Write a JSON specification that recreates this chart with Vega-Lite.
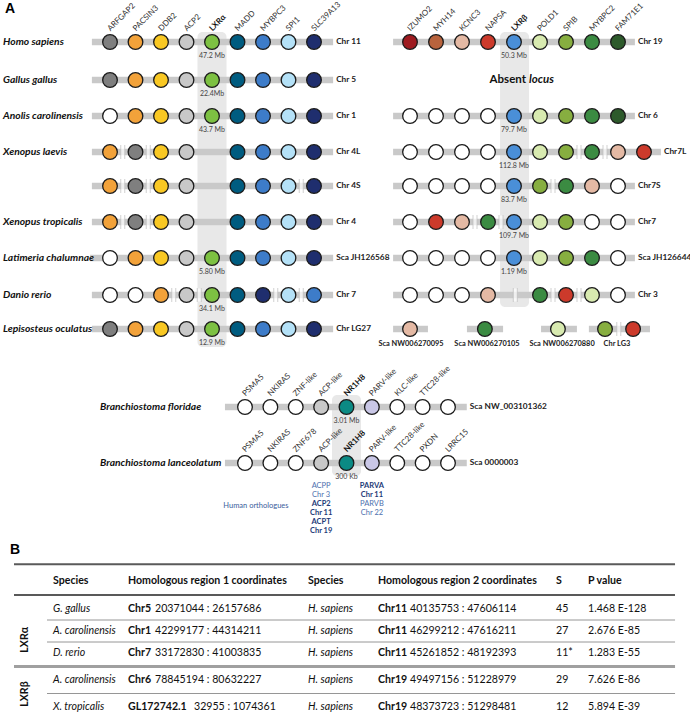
{
"$schema": "https://vega.github.io/schema/vega-lite/v6.json",
"width": 690, "height": 724, "padding": 0, "autosize": {"type": "none"},
"background": "white",
"config": {"view": {"stroke": null}, "axis": {"disable": true}, "legend": {"disable": true}, "font": "Lato"},
"datasets": {
"circL": [
{"r":1,"c":1,"g":"ARFGAP2"},{"r":1,"c":2,"g":"PACSIN3"},{"r":1,"c":3,"g":"DDB2"},{"r":1,"c":4,"g":"ACP2"},{"r":1,"c":5,"g":"LXRa"},{"r":1,"c":6,"g":"MADD"},{"r":1,"c":7,"g":"MYBPC3"},{"r":1,"c":8,"g":"SPI1"},{"r":1,"c":9,"g":"SLC39A13"},
{"r":2,"c":1,"g":"ARFGAP2"},{"r":2,"c":2,"g":"PACSIN3"},{"r":2,"c":3,"g":"DDB2"},{"r":2,"c":4,"g":"ACP2"},{"r":2,"c":5,"g":"LXRa"},{"r":2,"c":6,"g":"MADD"},{"r":2,"c":7,"g":"MYBPC3"},{"r":2,"c":8,"g":"SPI1"},{"r":2,"c":9,"g":"SLC39A13"},
{"r":3,"c":1,"g":"other"},{"r":3,"c":2,"g":"PACSIN3"},{"r":3,"c":3,"g":"DDB2"},{"r":3,"c":4,"g":"ACP2"},{"r":3,"c":5,"g":"LXRa"},{"r":3,"c":6,"g":"MADD"},{"r":3,"c":7,"g":"MYBPC3"},{"r":3,"c":8,"g":"SPI1"},{"r":3,"c":9,"g":"SLC39A13"},
{"r":4,"c":1,"g":"PACSIN3"},{"r":4,"c":2,"g":"ARFGAP2"},{"r":4,"c":3,"g":"DDB2"},{"r":4,"c":4,"g":"ACP2"},{"r":4,"c":6,"g":"MADD"},{"r":4,"c":7,"g":"MYBPC3"},{"r":4,"c":8,"g":"SPI1"},{"r":4,"c":9,"g":"SLC39A13"},
{"r":5,"c":1,"g":"PACSIN3"},{"r":5,"c":2,"g":"ARFGAP2"},{"r":5,"c":3,"g":"DDB2"},{"r":5,"c":4,"g":"ACP2"},{"r":5,"c":6,"g":"MADD"},{"r":5,"c":7,"g":"MYBPC3"},{"r":5,"c":8,"g":"SPI1"},{"r":5,"c":9,"g":"SLC39A13"},
{"r":6,"c":1,"g":"PACSIN3"},{"r":6,"c":2,"g":"ARFGAP2"},{"r":6,"c":3,"g":"DDB2"},{"r":6,"c":4,"g":"ACP2"},{"r":6,"c":6,"g":"MADD"},{"r":6,"c":7,"g":"MYBPC3"},{"r":6,"c":8,"g":"SPI1"},{"r":6,"c":9,"g":"SLC39A13"},
{"r":7,"c":1,"g":"other"},{"r":7,"c":2,"g":"PACSIN3"},{"r":7,"c":3,"g":"DDB2"},{"r":7,"c":4,"g":"ACP2"},{"r":7,"c":5,"g":"LXRa"},{"r":7,"c":6,"g":"MADD"},{"r":7,"c":7,"g":"MYBPC3"},{"r":7,"c":8,"g":"SPI1"},{"r":7,"c":9,"g":"SLC39A13"},
{"r":8,"c":1,"g":"other"},{"r":8,"c":2,"g":"other"},{"r":8,"c":3,"g":"PACSIN3"},{"r":8,"c":4,"g":"ACP2"},{"r":8,"c":5,"g":"LXRa"},{"r":8,"c":6,"g":"MADD"},{"r":8,"c":7,"g":"SLC39A13"},{"r":8,"c":8,"g":"SPI1"},{"r":8,"c":9,"g":"MYBPC3"},
{"r":9,"c":1,"g":"ARFGAP2"},{"r":9,"c":2,"g":"PACSIN3"},{"r":9,"c":3,"g":"DDB2"},{"r":9,"c":4,"g":"ACP2"},{"r":9,"c":5,"g":"LXRa"},{"r":9,"c":6,"g":"MADD"},{"r":9,"c":7,"g":"MYBPC3"},{"r":9,"c":8,"g":"SPI1"},{"r":9,"c":9,"g":"SLC39A13"}
],
"circR": [
{"r":1,"c":1,"g":"IZUMO2"},{"r":1,"c":2,"g":"MYH14"},{"r":1,"c":3,"g":"KCNC3"},{"r":1,"c":4,"g":"NAPSA"},{"r":1,"c":5,"g":"LXRb"},{"r":1,"c":6,"g":"POLD1"},{"r":1,"c":7,"g":"SPIB"},{"r":1,"c":8,"g":"MYBPC2"},{"r":1,"c":9,"g":"FAM71E1"},
{"r":3,"c":1,"g":"other"},{"r":3,"c":2,"g":"other"},{"r":3,"c":3,"g":"other"},{"r":3,"c":4,"g":"other"},{"r":3,"c":5,"g":"LXRb"},{"r":3,"c":6,"g":"POLD1"},{"r":3,"c":7,"g":"SPIB"},{"r":3,"c":8,"g":"MYBPC2"},{"r":3,"c":9,"g":"FAM71E1"},
{"r":4,"c":1,"g":"other"},{"r":4,"c":2,"g":"other"},{"r":4,"c":3,"g":"other"},{"r":4,"c":4,"g":"other"},{"r":4,"c":5,"g":"LXRb"},{"r":4,"c":6,"g":"POLD1"},{"r":4,"c":7,"g":"SPIB"},{"r":4,"c":8,"g":"MYBPC2"},{"r":4,"c":9,"g":"KCNC3"},{"r":4,"c":10,"g":"NAPSA"},
{"r":5,"c":1,"g":"other"},{"r":5,"c":2,"g":"other"},{"r":5,"c":3,"g":"other"},{"r":5,"c":4,"g":"other"},{"r":5,"c":5,"g":"LXRb"},{"r":5,"c":6,"g":"SPIB"},{"r":5,"c":7,"g":"MYBPC2"},{"r":5,"c":8,"g":"KCNC3"},{"r":5,"c":9,"g":"other"},
{"r":6,"c":1,"g":"other"},{"r":6,"c":2,"g":"NAPSA"},{"r":6,"c":3,"g":"KCNC3"},{"r":6,"c":4,"g":"MYBPC2"},{"r":6,"c":5,"g":"LXRb"},{"r":6,"c":6,"g":"POLD1"},{"r":6,"c":7,"g":"SPIB"},{"r":6,"c":8,"g":"other"},{"r":6,"c":9,"g":"other"},
{"r":7,"c":1,"g":"other"},{"r":7,"c":2,"g":"other"},{"r":7,"c":3,"g":"other"},{"r":7,"c":4,"g":"other"},{"r":7,"c":5,"g":"LXRb"},{"r":7,"c":6,"g":"POLD1"},{"r":7,"c":7,"g":"SPIB"},{"r":7,"c":8,"g":"MYBPC2"},{"r":7,"c":9,"g":"other"},
{"r":8,"c":1,"g":"other"},{"r":8,"c":2,"g":"other"},{"r":8,"c":3,"g":"other"},{"r":8,"c":4,"g":"KCNC3"},{"r":8,"c":6,"g":"MYBPC2"},{"r":8,"c":7,"g":"NAPSA"},{"r":8,"c":8,"g":"POLD1"},{"r":8,"c":9,"g":"other"},
{"r":9,"c":1,"g":"KCNC3"},{"r":9,"c":3.88,"g":"MYBPC2"},{"r":9,"c":6.69,"g":"POLD1"},{"r":9,"c":8.5,"g":"SPIB"},{"r":9,"c":9.58,"g":"NAPSA"}
],
"circB": [
{"r":1,"c":1,"g":"other"},{"r":1,"c":2,"g":"other"},{"r":1,"c":3,"g":"other"},{"r":1,"c":4,"g":"ACP-like"},{"r":1,"c":5,"g":"NR1H8"},{"r":1,"c":6,"g":"PARV-like"},{"r":1,"c":7,"g":"other"},{"r":1,"c":8,"g":"other"},{"r":1,"c":9,"g":"other"},
{"r":2,"c":1,"g":"other"},{"r":2,"c":2,"g":"other"},{"r":2,"c":3,"g":"other"},{"r":2,"c":4,"g":"ACP-like"},{"r":2,"c":5,"g":"NR1H8"},{"r":2,"c":6,"g":"PARV-like"},{"r":2,"c":7,"g":"other"},{"r":2,"c":8,"g":"other"},{"r":2,"c":9,"g":"other"}
],
"barsL": [
{"r":1,"from":0.29,"to":9.75,"chr":"Chr 11","sp":"Homo sapiens"},
{"r":2,"from":0.29,"to":9.75,"chr":"Chr 5","sp":"Gallus gallus"},
{"r":3,"from":0.29,"to":9.75,"chr":"Chr 1","sp":"Anolis carolinensis"},
{"r":4,"from":0.29,"to":9.75,"chr":"Chr 4L","sp":"Xenopus laevis"},
{"r":5,"from":0.29,"to":9.75,"chr":"Chr 4S","sp":""},
{"r":6,"from":0.29,"to":9.75,"chr":"Chr 4","sp":"Xenopus tropicalis"},
{"r":7,"from":0.22,"to":9.75,"chr":"Sca JH126568","sp":"Latimeria chalumnae"},
{"r":8,"from":0.29,"to":9.75,"chr":"Chr 7","sp":"Danio rerio"},
{"r":9,"from":0.29,"to":9.75,"chr":"Chr LG27","sp":"Lepisosteus oculatus"}
],
"barsR": [
{"r":1,"from":0.35,"to":9.65,"chr":"Chr 19"},
{"r":3,"from":0.35,"to":9.65,"chr":"Chr 6"},
{"r":4,"from":0.35,"to":10.65,"chr":"Chr7L"},
{"r":5,"from":0.35,"to":9.65,"chr":"Chr7S"},
{"r":6,"from":0.35,"to":9.65,"chr":"Chr7"},
{"r":7,"from":0.35,"to":9.65,"chr":"Sca JH126644"},
{"r":8,"from":0.35,"to":9.65,"chr":"Chr 3"},
{"r":9,"from":0.35,"to":1.69,"chr":""},
{"r":9,"from":3.19,"to":4.58,"chr":""},
{"r":9,"from":6.04,"to":7.42,"chr":""},
{"r":9,"from":7.88,"to":10.23,"chr":""}
],
"barsB": [
{"r":1,"from":0.21,"to":9.74,"chr":"Sca NW_003101362","sp":"Branchiostoma floridae"},
{"r":2,"from":0.21,"to":9.74,"chr":"Sca 0000003","sp":"Branchiostoma lanceolatum"}
],
"brkL": [
{"r":4,"c":1.5},{"r":4,"c":2.5},{"r":5,"c":1.5},{"r":5,"c":2.5},{"r":5,"c":8.5},{"r":6,"c":1.5},{"r":6,"c":2.5},
{"r":8,"c":3.5},{"r":8,"c":4.5},{"r":8,"c":7.5},{"r":8,"c":8.5}
],
"brkR": [
{"r":4,"c":7.5},{"r":4,"c":8.5},{"r":5,"c":6.5},{"r":6,"c":3.5},{"r":6,"c":4.5},{"r":8,"c":5.05},{"r":8,"c":6.5},{"r":8,"c":7.5},{"r":9,"c":9.03}
],
"labL": [
{"c":1,"t":"ARFGAP2","b":false},{"c":2,"t":"PACSIN3","b":false},{"c":3,"t":"DDB2","b":false},{"c":4,"t":"ACP2","b":false},{"c":5,"t":"LXRα","b":true},{"c":6,"t":"MADD","b":false},{"c":7,"t":"MYBPC3","b":false},{"c":8,"t":"SPI1","b":false},{"c":9,"t":"SLC39A13","b":false}
],
"labR": [
{"c":1,"t":"IZUMO2","b":false},{"c":2,"t":"MYH14","b":false},{"c":3,"t":"KCNC3","b":false},{"c":4,"t":"NAPSA","b":false},{"c":5,"t":"LXRβ","b":true},{"c":6,"t":"POLD1","b":false},{"c":7,"t":"SPIB","b":false},{"c":8,"t":"MYBPC2","b":false},{"c":9,"t":"FAM71E1","b":false}
],
"labB": [
{"r":1,"c":1,"t":"PSMA5","b":false},{"r":1,"c":2,"t":"NKIRAS","b":false},{"r":1,"c":3,"t":"ZNF-like","b":false},{"r":1,"c":4,"t":"ACP-like","b":false},{"r":1,"c":5,"t":"NR1H8","b":true},{"r":1,"c":6,"t":"PARV-like","b":false},{"r":1,"c":7,"t":"KLC-like","b":false},{"r":1,"c":8,"t":"TTC28-like","b":false},
{"r":2,"c":1,"t":"PSMA5","b":false},{"r":2,"c":2,"t":"NKIRAS","b":false},{"r":2,"c":3,"t":"ZNF678","b":false},{"r":2,"c":4,"t":"ACP-like","b":false},{"r":2,"c":5,"t":"NR1H8","b":true},{"r":2,"c":6,"t":"PARV-like","b":false},{"r":2,"c":7,"t":"TTC28-like","b":false},{"r":2,"c":8,"t":"PXDN","b":false},{"r":2,"c":9,"t":"LRRC15","b":false}
],
"mbL": [{"r":1,"c":5,"t":"47.2 Mb"},{"r":2,"c":5,"t":"22.4Mb"},{"r":3,"c":5,"t":"43.7 Mb"},{"r":7,"c":5,"t":"5.80 Mb"},{"r":8,"c":5,"t":"34.1 Mb"},{"r":9,"c":5,"t":"12.9 Mb"}],
"mbR": [{"r":1,"c":5,"t":"50.3 Mb"},{"r":3,"c":5,"t":"79.7 Mb"},{"r":4,"c":5,"t":"112.8 Mb"},{"r":5,"c":5,"t":"83.7 Mb"},{"r":6,"c":5,"t":"109.7 Mb"},{"r":7,"c":5,"t":"1.19 Mb"}],
"mbB": [{"r":1,"c":5,"t":"3.01 Mb"},{"r":2,"c":5,"t":"300 Kb"}],
"scaR": [{"c":1.04,"t":"Sca NW006270095"},{"c":3.96,"t":"Sca NW006270105"},{"c":6.85,"t":"Sca NW006270880"},{"c":8.96,"t":"Chr LG3"}],
"ortho": [
{"c":4,"l":1,"t":"ACPP","b":false},{"c":4,"l":2,"t":"Chr 3","b":false},{"c":4,"l":3,"t":"ACP2","b":true},{"c":4,"l":4,"t":"Chr 11","b":true},{"c":4,"l":5,"t":"ACPT","b":true},{"c":4,"l":6,"t":"Chr 19","b":true},
{"c":6,"l":1,"t":"PARVA","b":true},{"c":6,"l":2,"t":"Chr 11","b":true},{"c":6,"l":3,"t":"PARVB","b":false},{"c":6,"l":4,"t":"Chr 22","b":false}
],
"table": [
{"r":1,"sp1":"G. gallus","r1b":"Chr5","r1":"20371044 : 26157686","sp2":"H. sapiens","r2b":"Chr11","r2":"40135753 : 47606114","S":"45","P":"1.468 E-128"},
{"r":2,"sp1":"A. carolinensis","r1b":"Chr1","r1":"42299177 : 44314211","sp2":"H. sapiens","r2b":"Chr11","r2":"46299212 : 47616211","S":"27","P":"2.676 E-85"},
{"r":3,"sp1":"D. rerio","r1b":"Chr7","r1":"33172830 : 41003835","sp2":"H. sapiens","r2b":"Chr11","r2":"45261852 : 48192393","S":"11*","P":"1.283 E-55"},
{"r":4,"sp1":"A. carolinensis","r1b":"Chr6","r1":"78845194 : 80632227","sp2":"H. sapiens","r2b":"Chr19","r2":"49497156 : 51228979","S":"29","P":"7.626 E-86"},
{"r":5,"sp1":"X. tropicalis","r1b":"GL172742.1","r1":"32955 : 1074361","sp2":"H. sapiens","r2b":"Chr19","r2":"48373723 : 51298481","S":"12","P":"5.894 E-39"}
],
"thead": [{"c":1,"t":"Species"},{"c":2,"t":"Homologous region 1 coordinates"},{"c":3,"t":"Species"},{"c":4,"t":"Homologous region 2 coordinates"},{"c":5,"t":"S"},{"c":6,"t":"P value"}],
"tlines": [{"y":-0.6,"k":"top"},{"y":0.5,"k":"head"},{"y":1.5,"k":"thin"},{"y":2.5,"k":"thin"},{"y":3.5,"k":"dbl"},{"y":4.5,"k":"thin"}],
"groups": [{"t":"LXRα","y":2.4},{"t":"LXRβ","y":4.52}]
},
"resolve": {"scale": {"x": "independent", "y": "independent"}},
"layer": [
{"data":{"values":[{"c":5,"t":0.74,"b":9.53}]},"mark":{"type":"bar","width":29,"color":"#e8e8e8","cornerRadius":5},
 "encoding":{"x":{"field":"c","type":"quantitative","scale":{"domain":[1,9],"range":[110,314],"nice":false,"zero":false}},
 "y":{"field":"t","type":"quantitative","scale":{"domain":[1,2,3,4,5,6,7,8,9],"range":[42,80,116,152,186,222,258,295,329],"nice":false,"zero":false}},"y2":{"field":"b"}}},
{"data":{"values":[{"c":5,"t":0.74,"b":8.35}]},"mark":{"type":"bar","width":29,"color":"#e8e8e8","cornerRadius":5},
 "encoding":{"x":{"field":"c","type":"quantitative","scale":{"domain":[1,10],"range":[410,644],"nice":false,"zero":false}},
 "y":{"field":"t","type":"quantitative","scale":{"domain":[1,2,3,4,5,6,7,8,9],"range":[42,80,116,152,186,222,258,295,329],"nice":false,"zero":false}},"y2":{"field":"b"}}},
{"data":{"values":[{"c":5,"t":0.786,"b":2.23}]},"mark":{"type":"bar","width":29,"color":"#e8e8e8","cornerRadius":5},
 "encoding":{"x":{"field":"c","type":"quantitative","scale":{"domain":[1,9],"range":[245,448],"nice":false,"zero":false}},
 "y":{"field":"t","type":"quantitative","scale":{"domain":[1,2],"range":[407,463],"nice":false,"zero":false}},"y2":{"field":"b"}}},

{"data":{"name":"barsL"},"mark":{"type":"rule","color":"#c9c9c9","strokeWidth":6.5},
 "encoding":{"x":{"field":"from","type":"quantitative","scale":{"domain":[1,9],"range":[110,314],"nice":false,"zero":false}},"x2":{"field":"to"},
 "y":{"field":"r","type":"quantitative","scale":{"domain":[1,2,3,4,5,6,7,8,9],"range":[42,80,116,152,186,222,258,295,329],"nice":false,"zero":false}}}},
{"data":{"name":"barsR"},"mark":{"type":"rule","color":"#c9c9c9","strokeWidth":6.5},
 "encoding":{"x":{"field":"from","type":"quantitative","scale":{"domain":[1,10],"range":[410,644],"nice":false,"zero":false}},"x2":{"field":"to"},
 "y":{"field":"r","type":"quantitative","scale":{"domain":[1,2,3,4,5,6,7,8,9],"range":[42,80,116,152,186,222,258,295,329],"nice":false,"zero":false}}}},
{"data":{"name":"barsB"},"mark":{"type":"rule","color":"#c9c9c9","strokeWidth":6.5},
 "encoding":{"x":{"field":"from","type":"quantitative","scale":{"domain":[1,9],"range":[245,448],"nice":false,"zero":false}},"x2":{"field":"to"},
 "y":{"field":"r","type":"quantitative","scale":{"domain":[1,2],"range":[407,463],"nice":false,"zero":false}}}},

{"data":{"name":"brkL"},"mark":{"type":"tick","orient":"vertical","color":"white","thickness":4,"size":13},
 "encoding":{"x":{"field":"c","type":"quantitative","scale":{"domain":[1,9],"range":[110,314],"nice":false,"zero":false}},
 "y":{"field":"r","type":"quantitative","scale":{"domain":[1,2,3,4,5,6,7,8,9],"range":[42,80,116,152,186,222,258,295,329],"nice":false,"zero":false}}}},
{"data":{"name":"brkL"},"mark":{"type":"tick","orient":"vertical","color":"#bdbdbd","thickness":1,"size":14,"xOffset":-2},
 "encoding":{"x":{"field":"c","type":"quantitative","scale":{"domain":[1,9],"range":[110,314],"nice":false,"zero":false}},
 "y":{"field":"r","type":"quantitative","scale":{"domain":[1,2,3,4,5,6,7,8,9],"range":[42,80,116,152,186,222,258,295,329],"nice":false,"zero":false}}}},
{"data":{"name":"brkL"},"mark":{"type":"tick","orient":"vertical","color":"#bdbdbd","thickness":1,"size":14,"xOffset":2},
 "encoding":{"x":{"field":"c","type":"quantitative","scale":{"domain":[1,9],"range":[110,314],"nice":false,"zero":false}},
 "y":{"field":"r","type":"quantitative","scale":{"domain":[1,2,3,4,5,6,7,8,9],"range":[42,80,116,152,186,222,258,295,329],"nice":false,"zero":false}}}},
{"data":{"name":"brkR"},"mark":{"type":"tick","orient":"vertical","color":"white","thickness":4,"size":13},
 "encoding":{"x":{"field":"c","type":"quantitative","scale":{"domain":[1,10],"range":[410,644],"nice":false,"zero":false}},
 "y":{"field":"r","type":"quantitative","scale":{"domain":[1,2,3,4,5,6,7,8,9],"range":[42,80,116,152,186,222,258,295,329],"nice":false,"zero":false}}}},
{"data":{"name":"brkR"},"mark":{"type":"tick","orient":"vertical","color":"#bdbdbd","thickness":1,"size":14,"xOffset":-2},
 "encoding":{"x":{"field":"c","type":"quantitative","scale":{"domain":[1,10],"range":[410,644],"nice":false,"zero":false}},
 "y":{"field":"r","type":"quantitative","scale":{"domain":[1,2,3,4,5,6,7,8,9],"range":[42,80,116,152,186,222,258,295,329],"nice":false,"zero":false}}}},
{"data":{"name":"brkR"},"mark":{"type":"tick","orient":"vertical","color":"#bdbdbd","thickness":1,"size":14,"xOffset":2},
 "encoding":{"x":{"field":"c","type":"quantitative","scale":{"domain":[1,10],"range":[410,644],"nice":false,"zero":false}},
 "y":{"field":"r","type":"quantitative","scale":{"domain":[1,2,3,4,5,6,7,8,9],"range":[42,80,116,152,186,222,258,295,329],"nice":false,"zero":false}}}},

{"data":{"name":"circL"},"mark":{"type":"point","shape":"circle","filled":true,"size":215,"stroke":"#1b1b1b","strokeWidth":1.3,"opacity":1},
 "encoding":{"x":{"field":"c","type":"quantitative","scale":{"domain":[1,9],"range":[110,314],"nice":false,"zero":false}},
 "y":{"field":"r","type":"quantitative","scale":{"domain":[1,2,3,4,5,6,7,8,9],"range":[42,80,116,152,186,222,258,295,329],"nice":false,"zero":false}},
 "color":{"field":"g","type":"nominal","scale":{"domain":["ARFGAP2","PACSIN3","DDB2","ACP2","LXRa","MADD","MYBPC3","SPI1","SLC39A13","IZUMO2","MYH14","KCNC3","NAPSA","LXRb","POLD1","SPIB","MYBPC2","FAM71E1","ACP-like","NR1H8","PARV-like","other"],"range":["#7f7f7f","#f2a23a","#f9c823","#c8c8c8","#7dc142","#005c80","#3d7cc9","#b4e1f7","#1f2e6e","#9e1b20","#b8633d","#e4b9a4","#cc3a2b","#4a8fd8","#d8eab0","#87ae40","#3b8b42","#2d5a2b","#c8c8c8","#0b8a84","#c9c7e6","#ffffff"]}}}},
{"data":{"name":"circR"},"mark":{"type":"point","shape":"circle","filled":true,"size":215,"stroke":"#1b1b1b","strokeWidth":1.3,"opacity":1},
 "encoding":{"x":{"field":"c","type":"quantitative","scale":{"domain":[1,10],"range":[410,644],"nice":false,"zero":false}},
 "y":{"field":"r","type":"quantitative","scale":{"domain":[1,2,3,4,5,6,7,8,9],"range":[42,80,116,152,186,222,258,295,329],"nice":false,"zero":false}},
 "color":{"field":"g","type":"nominal","scale":{"domain":["ARFGAP2","PACSIN3","DDB2","ACP2","LXRa","MADD","MYBPC3","SPI1","SLC39A13","IZUMO2","MYH14","KCNC3","NAPSA","LXRb","POLD1","SPIB","MYBPC2","FAM71E1","ACP-like","NR1H8","PARV-like","other"],"range":["#7f7f7f","#f2a23a","#f9c823","#c8c8c8","#7dc142","#005c80","#3d7cc9","#b4e1f7","#1f2e6e","#9e1b20","#b8633d","#e4b9a4","#cc3a2b","#4a8fd8","#d8eab0","#87ae40","#3b8b42","#2d5a2b","#c8c8c8","#0b8a84","#c9c7e6","#ffffff"]}}}},
{"data":{"name":"circB"},"mark":{"type":"point","shape":"circle","filled":true,"size":215,"stroke":"#1b1b1b","strokeWidth":1.3,"opacity":1},
 "encoding":{"x":{"field":"c","type":"quantitative","scale":{"domain":[1,9],"range":[245,448],"nice":false,"zero":false}},
 "y":{"field":"r","type":"quantitative","scale":{"domain":[1,2],"range":[407,463],"nice":false,"zero":false}},
 "color":{"field":"g","type":"nominal","scale":{"domain":["ARFGAP2","PACSIN3","DDB2","ACP2","LXRa","MADD","MYBPC3","SPI1","SLC39A13","IZUMO2","MYH14","KCNC3","NAPSA","LXRb","POLD1","SPIB","MYBPC2","FAM71E1","ACP-like","NR1H8","PARV-like","other"],"range":["#7f7f7f","#f2a23a","#f9c823","#c8c8c8","#7dc142","#005c80","#3d7cc9","#b4e1f7","#1f2e6e","#9e1b20","#b8633d","#e4b9a4","#cc3a2b","#4a8fd8","#d8eab0","#87ae40","#3b8b42","#2d5a2b","#c8c8c8","#0b8a84","#c9c7e6","#ffffff"]}}}},

{"data":{"name":"labL"},"transform":[{"filter":"!datum.b"}],"mark":{"type":"text","angle":315,"align":"left","baseline":"middle","fontSize":8,"color":"#333","xOffset":-1,"yOffset":-12},
 "encoding":{"x":{"field":"c","type":"quantitative","scale":{"domain":[1,9],"range":[110,314],"nice":false,"zero":false}},
 "y":{"datum":1,"type":"quantitative","scale":{"domain":[1,2,3,4,5,6,7,8,9],"range":[42,80,116,152,186,222,258,295,329],"nice":false,"zero":false}},"text":{"field":"t"}}},
{"data":{"name":"labL"},"transform":[{"filter":"datum.b"}],"mark":{"type":"text","angle":315,"align":"left","baseline":"middle","fontSize":8,"fontWeight":"bold","color":"#111","xOffset":-1,"yOffset":-12},
 "encoding":{"x":{"field":"c","type":"quantitative","scale":{"domain":[1,9],"range":[110,314],"nice":false,"zero":false}},
 "y":{"datum":1,"type":"quantitative","scale":{"domain":[1,2,3,4,5,6,7,8,9],"range":[42,80,116,152,186,222,258,295,329],"nice":false,"zero":false}},"text":{"field":"t"}}},
{"data":{"name":"labR"},"transform":[{"filter":"!datum.b"}],"mark":{"type":"text","angle":315,"align":"left","baseline":"middle","fontSize":8,"color":"#333","xOffset":-1,"yOffset":-12},
 "encoding":{"x":{"field":"c","type":"quantitative","scale":{"domain":[1,10],"range":[410,644],"nice":false,"zero":false}},
 "y":{"datum":1,"type":"quantitative","scale":{"domain":[1,2,3,4,5,6,7,8,9],"range":[42,80,116,152,186,222,258,295,329],"nice":false,"zero":false}},"text":{"field":"t"}}},
{"data":{"name":"labR"},"transform":[{"filter":"datum.b"}],"mark":{"type":"text","angle":315,"align":"left","baseline":"middle","fontSize":8,"fontWeight":"bold","color":"#111","xOffset":-1,"yOffset":-12},
 "encoding":{"x":{"field":"c","type":"quantitative","scale":{"domain":[1,10],"range":[410,644],"nice":false,"zero":false}},
 "y":{"datum":1,"type":"quantitative","scale":{"domain":[1,2,3,4,5,6,7,8,9],"range":[42,80,116,152,186,222,258,295,329],"nice":false,"zero":false}},"text":{"field":"t"}}},
{"data":{"name":"labB"},"transform":[{"filter":"!datum.b"}],"mark":{"type":"text","angle":315,"align":"left","baseline":"middle","fontSize":8,"color":"#333","xOffset":-1,"yOffset":-12},
 "encoding":{"x":{"field":"c","type":"quantitative","scale":{"domain":[1,9],"range":[245,448],"nice":false,"zero":false}},
 "y":{"field":"r","type":"quantitative","scale":{"domain":[1,2],"range":[407,463],"nice":false,"zero":false}},"text":{"field":"t"}}},
{"data":{"name":"labB"},"transform":[{"filter":"datum.b"}],"mark":{"type":"text","angle":315,"align":"left","baseline":"middle","fontSize":8,"fontWeight":"bold","color":"#111","xOffset":-1,"yOffset":-12},
 "encoding":{"x":{"field":"c","type":"quantitative","scale":{"domain":[1,9],"range":[245,448],"nice":false,"zero":false}},
 "y":{"field":"r","type":"quantitative","scale":{"domain":[1,2],"range":[407,463],"nice":false,"zero":false}},"text":{"field":"t"}}},

{"data":{"name":"mbL"},"mark":{"type":"text","align":"center","baseline":"middle","fontSize":7,"color":"#444","yOffset":13.5},
 "encoding":{"x":{"field":"c","type":"quantitative","scale":{"domain":[1,9],"range":[110,314],"nice":false,"zero":false}},
 "y":{"field":"r","type":"quantitative","scale":{"domain":[1,2,3,4,5,6,7,8,9],"range":[42,80,116,152,186,222,258,295,329],"nice":false,"zero":false}},"text":{"field":"t"}}},
{"data":{"name":"mbR"},"mark":{"type":"text","align":"center","baseline":"middle","fontSize":7,"color":"#444","yOffset":13.5},
 "encoding":{"x":{"field":"c","type":"quantitative","scale":{"domain":[1,10],"range":[410,644],"nice":false,"zero":false}},
 "y":{"field":"r","type":"quantitative","scale":{"domain":[1,2,3,4,5,6,7,8,9],"range":[42,80,116,152,186,222,258,295,329],"nice":false,"zero":false}},"text":{"field":"t"}}},
{"data":{"name":"mbB"},"mark":{"type":"text","align":"center","baseline":"middle","fontSize":7,"color":"#444","yOffset":13.5},
 "encoding":{"x":{"field":"c","type":"quantitative","scale":{"domain":[1,9],"range":[245,448],"nice":false,"zero":false}},
 "y":{"field":"r","type":"quantitative","scale":{"domain":[1,2],"range":[407,463],"nice":false,"zero":false}},"text":{"field":"t"}}},

{"data":{"name":"barsL"},"mark":{"type":"text","align":"left","baseline":"middle","fontSize":8.3,"fontWeight":"bold","color":"#222","xOffset":3},
 "encoding":{"x":{"field":"to","type":"quantitative","scale":{"domain":[1,9],"range":[110,314],"nice":false,"zero":false}},
 "y":{"field":"r","type":"quantitative","scale":{"domain":[1,2,3,4,5,6,7,8,9],"range":[42,80,116,152,186,222,258,295,329],"nice":false,"zero":false}},"text":{"field":"chr"}}},
{"data":{"name":"barsR"},"mark":{"type":"text","align":"left","baseline":"middle","fontSize":8.3,"fontWeight":"bold","color":"#222","xOffset":3},
 "encoding":{"x":{"field":"to","type":"quantitative","scale":{"domain":[1,10],"range":[410,644],"nice":false,"zero":false}},
 "y":{"field":"r","type":"quantitative","scale":{"domain":[1,2,3,4,5,6,7,8,9],"range":[42,80,116,152,186,222,258,295,329],"nice":false,"zero":false}},"text":{"field":"chr"}}},
{"data":{"name":"barsB"},"mark":{"type":"text","align":"left","baseline":"middle","fontSize":8.3,"fontWeight":"bold","color":"#222","xOffset":3},
 "encoding":{"x":{"field":"to","type":"quantitative","scale":{"domain":[1,9],"range":[245,448],"nice":false,"zero":false}},
 "y":{"field":"r","type":"quantitative","scale":{"domain":[1,2],"range":[407,463],"nice":false,"zero":false}},"text":{"field":"chr"}}},

{"data":{"name":"barsL"},"mark":{"type":"text","align":"left","baseline":"middle","fontSize":10.3,"fontWeight":"bold","fontStyle":"italic","color":"#111"},
 "encoding":{"x":{"value":3},
 "y":{"field":"r","type":"quantitative","scale":{"domain":[1,2,3,4,5,6,7,8,9],"range":[42,80,116,152,186,222,258,295,329],"nice":false,"zero":false}},"text":{"field":"sp"}}},
{"data":{"name":"barsB"},"mark":{"type":"text","align":"left","baseline":"middle","fontSize":10.3,"fontWeight":"bold","fontStyle":"italic","color":"#111"},
 "encoding":{"x":{"value":100},
 "y":{"field":"r","type":"quantitative","scale":{"domain":[1,2],"range":[407,463],"nice":false,"zero":false}},"text":{"field":"sp"}}},

{"data":{"values":[{"c":5.5,"r":2,"t":"Absent"}]},"mark":{"type":"text","align":"right","baseline":"middle","fontSize":11.5,"fontWeight":"bold","color":"#111","xOffset":-1},
 "encoding":{"x":{"field":"c","type":"quantitative","scale":{"domain":[1,10],"range":[410,644],"nice":false,"zero":false}},
 "y":{"field":"r","type":"quantitative","scale":{"domain":[1,2,3,4,5,6,7,8,9],"range":[42,80,116,152,186,222,258,295,329],"nice":false,"zero":false}},"text":{"field":"t"}}},
{"data":{"values":[{"c":5.5,"r":2,"t":"locus"}]},"mark":{"type":"text","align":"left","baseline":"middle","fontSize":11.5,"fontWeight":"bold","fontStyle":"italic","color":"#111","xOffset":2},
 "encoding":{"x":{"field":"c","type":"quantitative","scale":{"domain":[1,10],"range":[410,644],"nice":false,"zero":false}},
 "y":{"field":"r","type":"quantitative","scale":{"domain":[1,2,3,4,5,6,7,8,9],"range":[42,80,116,152,186,222,258,295,329],"nice":false,"zero":false}},"text":{"field":"t"}}},
{"data":{"name":"scaR"},"mark":{"type":"text","align":"center","baseline":"middle","fontSize":7.4,"fontWeight":"bold","color":"#222","yOffset":15},
 "encoding":{"x":{"field":"c","type":"quantitative","scale":{"domain":[1,10],"range":[410,644],"nice":false,"zero":false}},
 "y":{"datum":9,"type":"quantitative","scale":{"domain":[1,2,3,4,5,6,7,8,9],"range":[42,80,116,152,186,222,258,295,329],"nice":false,"zero":false}},"text":{"field":"t"}}},

{"data":{"name":"ortho"},"transform":[{"filter":"!datum.b"}],"mark":{"type":"text","align":"center","baseline":"middle","fontSize":7.5,"color":"#4d6fae"},
 "encoding":{"x":{"field":"c","type":"quantitative","scale":{"domain":[1,9],"range":[245,448],"nice":false,"zero":false}},
 "y":{"field":"l","type":"quantitative","scale":{"domain":[1,6],"range":[486,531],"nice":false,"zero":false}},"text":{"field":"t"}}},
{"data":{"name":"ortho"},"transform":[{"filter":"datum.b"}],"mark":{"type":"text","align":"center","baseline":"middle","fontSize":7.5,"fontWeight":"bold","color":"#1d3a78"},
 "encoding":{"x":{"field":"c","type":"quantitative","scale":{"domain":[1,9],"range":[245,448],"nice":false,"zero":false}},
 "y":{"field":"l","type":"quantitative","scale":{"domain":[1,6],"range":[486,531],"nice":false,"zero":false}},"text":{"field":"t"}}},
{"data":{"values":[{"c":1.43,"l":3.22,"t":"Human orthologues"}]},"mark":{"type":"text","align":"center","baseline":"middle","fontSize":7.5,"color":"#3b5d9c"},
 "encoding":{"x":{"field":"c","type":"quantitative","scale":{"domain":[1,9],"range":[245,448],"nice":false,"zero":false}},
 "y":{"field":"l","type":"quantitative","scale":{"domain":[1,6],"range":[486,531],"nice":false,"zero":false}},"text":{"field":"t"}}},

{"data":{"name":"tlines"},"transform":[{"filter":"datum.k === 'top'"}],"mark":{"type":"rule","color":"#5a5a5a","strokeWidth":2},
 "encoding":{"x":{"datum":0.48,"type":"quantitative","scale":{"domain":[1,2,3,4,5,6],"range":[53,128,308,378,556,588],"nice":false,"zero":false}},"x2":{"datum":8.72},
 "y":{"field":"y","type":"quantitative","scale":{"domain":[0,1,3,5],"range":[581,609,653,707],"nice":false,"zero":false}}}},
{"data":{"name":"tlines"},"transform":[{"filter":"datum.k === 'head'"}],"mark":{"type":"rule","color":"#222","strokeWidth":1.5},
 "encoding":{"x":{"datum":0.48,"type":"quantitative","scale":{"domain":[1,2,3,4,5,6],"range":[53,128,308,378,556,588],"nice":false,"zero":false}},"x2":{"datum":8.72},
 "y":{"field":"y","type":"quantitative","scale":{"domain":[0,1,3,5],"range":[581,609,653,707],"nice":false,"zero":false}}}},
{"data":{"name":"tlines"},"transform":[{"filter":"datum.k === 'thin'"}],"mark":{"type":"rule","color":"#8a8a8a","strokeWidth":0.9},
 "encoding":{"x":{"datum":0.92,"type":"quantitative","scale":{"domain":[1,2,3,4,5,6],"range":[53,128,308,378,556,588],"nice":false,"zero":false}},"x2":{"datum":8.72},
 "y":{"field":"y","type":"quantitative","scale":{"domain":[0,1,3,5],"range":[581,609,653,707],"nice":false,"zero":false}}}},
{"data":{"name":"tlines"},"transform":[{"filter":"datum.k === 'dbl'"}],"mark":{"type":"rule","color":"#a0a0a0","strokeWidth":3},
 "encoding":{"x":{"datum":0.48,"type":"quantitative","scale":{"domain":[1,2,3,4,5,6],"range":[53,128,308,378,556,588],"nice":false,"zero":false}},"x2":{"datum":8.72},
 "y":{"field":"y","type":"quantitative","scale":{"domain":[0,1,3,5],"range":[581,609,653,707],"nice":false,"zero":false}}}},

{"data":{"name":"thead"},"mark":{"type":"text","align":"left","baseline":"middle","fontSize":10.6,"fontWeight":"bold","color":"#111"},
 "encoding":{"x":{"field":"c","type":"quantitative","scale":{"domain":[1,2,3,4,5,6],"range":[53,128,308,378,556,588],"nice":false,"zero":false}},
 "y":{"datum":0,"type":"quantitative","scale":{"domain":[0,1,3,5],"range":[581,609,653,707],"nice":false,"zero":false}},"text":{"field":"t"}}},
{"data":{"name":"groups"},"mark":{"type":"text","align":"center","baseline":"middle","fontSize":10.6,"fontWeight":"bold","color":"#111","angle":270},
 "encoding":{"x":{"datum":0.627,"type":"quantitative","scale":{"domain":[1,2,3,4,5,6],"range":[53,128,308,378,556,588],"nice":false,"zero":false}},
 "y":{"field":"y","type":"quantitative","scale":{"domain":[0,1,3,5],"range":[581,609,653,707],"nice":false,"zero":false}},"text":{"field":"t"}}},
{"data":{"name":"table"},"mark":{"type":"text","align":"left","baseline":"middle","fontSize":10.6,"fontStyle":"italic","color":"#111"},
 "encoding":{"x":{"datum":1,"type":"quantitative","scale":{"domain":[1,2,3,4,5,6],"range":[53,128,308,378,556,588],"nice":false,"zero":false}},
 "y":{"field":"r","type":"quantitative","scale":{"domain":[0,1,3,5],"range":[581,609,653,707],"nice":false,"zero":false}},"text":{"field":"sp1"}}},
{"data":{"name":"table"},"mark":{"type":"text","align":"left","baseline":"middle","fontSize":10.6,"fontWeight":"bold","color":"#111"},
 "encoding":{"x":{"datum":2,"type":"quantitative","scale":{"domain":[1,2,3,4,5,6],"range":[53,128,308,378,556,588],"nice":false,"zero":false}},
 "y":{"field":"r","type":"quantitative","scale":{"domain":[0,1,3,5],"range":[581,609,653,707],"nice":false,"zero":false}},"text":{"field":"r1b"}}},
{"data":{"name":"table"},"transform":[{"filter":"datum.r1b !== 'GL172742.1'"}],"mark":{"type":"text","align":"left","baseline":"middle","fontSize":10.6,"color":"#111","xOffset":27},
 "encoding":{"x":{"datum":2,"type":"quantitative","scale":{"domain":[1,2,3,4,5,6],"range":[53,128,308,378,556,588],"nice":false,"zero":false}},
 "y":{"field":"r","type":"quantitative","scale":{"domain":[0,1,3,5],"range":[581,609,653,707],"nice":false,"zero":false}},"text":{"field":"r1"}}},
{"data":{"name":"table"},"transform":[{"filter":"datum.r1b === 'GL172742.1'"}],"mark":{"type":"text","align":"left","baseline":"middle","fontSize":10.6,"color":"#111","xOffset":66},
 "encoding":{"x":{"datum":2,"type":"quantitative","scale":{"domain":[1,2,3,4,5,6],"range":[53,128,308,378,556,588],"nice":false,"zero":false}},
 "y":{"field":"r","type":"quantitative","scale":{"domain":[0,1,3,5],"range":[581,609,653,707],"nice":false,"zero":false}},"text":{"field":"r1"}}},
{"data":{"name":"table"},"mark":{"type":"text","align":"left","baseline":"middle","fontSize":10.6,"fontStyle":"italic","color":"#111"},
 "encoding":{"x":{"datum":3,"type":"quantitative","scale":{"domain":[1,2,3,4,5,6],"range":[53,128,308,378,556,588],"nice":false,"zero":false}},
 "y":{"field":"r","type":"quantitative","scale":{"domain":[0,1,3,5],"range":[581,609,653,707],"nice":false,"zero":false}},"text":{"field":"sp2"}}},
{"data":{"name":"table"},"mark":{"type":"text","align":"left","baseline":"middle","fontSize":10.6,"fontWeight":"bold","color":"#111"},
 "encoding":{"x":{"datum":4,"type":"quantitative","scale":{"domain":[1,2,3,4,5,6],"range":[53,128,308,378,556,588],"nice":false,"zero":false}},
 "y":{"field":"r","type":"quantitative","scale":{"domain":[0,1,3,5],"range":[581,609,653,707],"nice":false,"zero":false}},"text":{"field":"r2b"}}},
{"data":{"name":"table"},"mark":{"type":"text","align":"left","baseline":"middle","fontSize":10.6,"color":"#111","xOffset":32},
 "encoding":{"x":{"datum":4,"type":"quantitative","scale":{"domain":[1,2,3,4,5,6],"range":[53,128,308,378,556,588],"nice":false,"zero":false}},
 "y":{"field":"r","type":"quantitative","scale":{"domain":[0,1,3,5],"range":[581,609,653,707],"nice":false,"zero":false}},"text":{"field":"r2"}}},
{"data":{"name":"table"},"mark":{"type":"text","align":"left","baseline":"middle","fontSize":10.6,"color":"#111"},
 "encoding":{"x":{"datum":5,"type":"quantitative","scale":{"domain":[1,2,3,4,5,6],"range":[53,128,308,378,556,588],"nice":false,"zero":false}},
 "y":{"field":"r","type":"quantitative","scale":{"domain":[0,1,3,5],"range":[581,609,653,707],"nice":false,"zero":false}},"text":{"field":"S"}}},
{"data":{"name":"table"},"mark":{"type":"text","align":"left","baseline":"middle","fontSize":10.6,"color":"#111"},
 "encoding":{"x":{"datum":6,"type":"quantitative","scale":{"domain":[1,2,3,4,5,6],"range":[53,128,308,378,556,588],"nice":false,"zero":false}},
 "y":{"field":"r","type":"quantitative","scale":{"domain":[0,1,3,5],"range":[581,609,653,707],"nice":false,"zero":false}},"text":{"field":"P"}}},

{"data":{"values":[{"p":"A"}]},"mark":{"type":"text","align":"left","baseline":"middle","fontSize":14,"fontWeight":"bold","font":"Liberation Sans","color":"#000"},
 "encoding":{"x":{"value":5},"y":{"value":9},"text":{"field":"p"}}},
{"data":{"values":[{"p":"B"}]},"mark":{"type":"text","align":"left","baseline":"middle","fontSize":14,"fontWeight":"bold","font":"Liberation Sans","color":"#000"},
 "encoding":{"x":{"value":10},"y":{"value":550},"text":{"field":"p"}}}
]
}
